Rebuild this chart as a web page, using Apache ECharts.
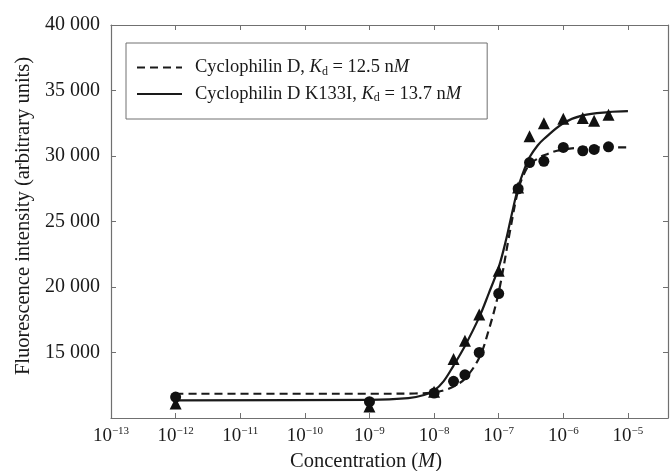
<!DOCTYPE html>
<html>
<head>
<meta charset="utf-8">
<script src="https://cdn.jsdelivr.net/npm/echarts@6/dist/echarts.min.js"></script>
<style>html,body{margin:0;padding:0;background:#fff}#c{width:670px;height:471px}</style>
</head>
<body>
<div id="c"></div>
<script>
// ---- data ----
const seriesNames = ['Cyclophilin D, Kd = 12.5 nM', 'Cyclophilin D K133I, Kd = 13.7 nM'];

// measured points, Cyclophilin D (circles)
const concCycD = [1e-12, 1e-9, 1e-8, 2e-8, 3e-8, 5e-8, 1e-7, 2e-7, 3e-7, 5e-7, 1e-6, 2e-6, 3e-6, 5e-6];
const fluoCycD = [11600, 11250, 11900, 12800, 13300, 15000, 19500, 27500, 29500, 29600, 30650, 30400, 30500, 30700];

// measured points, Cyclophilin D K133I (triangles)
const concK133I = [1e-12, 1e-9, 1e-8, 2e-8, 3e-8, 5e-8, 1e-7, 2e-7, 3e-7, 5e-7, 1e-6, 2e-6, 3e-6, 5e-6];
const fluoK133I = [11100, 10880, 12000, 14500, 15900, 17900, 21250, 27600, 31500, 32500, 32850, 32900, 32700, 33150];

// fitted curve, Cyclophilin D (dashed)
const fitConcCycD = [1e-12, 1e-9, 5e-9, 1e-8, 1.5e-8, 2e-8, 3e-8, 5e-8, 7e-8, 1e-7, 1.5e-7, 2e-7, 2.5e-7, 3e-7, 4e-7, 5e-7, 8e-7, 1.5e-6, 3e-6, 1e-5];
const fitFluoCycD = [11850, 11850, 11870, 11950, 12150, 12400, 13000, 14600, 16700, 19600, 24300, 27400, 28700, 29350, 29800, 30050, 30400, 30600, 30650, 30660];

// fitted curve, K133I (solid)
const fitConcK133I = [1e-12, 1e-9, 4e-9, 7e-9, 1e-8, 1.4e-8, 2e-8, 3e-8, 5e-8, 7e-8, 1e-7, 1.3e-7, 1.6e-7, 2e-7, 2.5e-7, 3e-7, 4e-7, 5e-7, 1e-6, 2e-6, 5e-6, 1e-5];
const fitFluoK133I = [11350, 11380, 11520, 11760, 12100, 12800, 14000, 15500, 17700, 19500, 21500, 23600, 25600, 27600, 29000, 29900, 30800, 31300, 32500, 33100, 33350, 33420];

// axis ticks
const xTickExps = [-13, -12, -11, -10, -9, -8, -7, -6, -5];
const yTickValues = [15000, 20000, 25000, 30000, 35000, 40000];

// ---- chart ----
const pairs = (xs, ys) => xs.map((x, i) => [x, ys[i]]);
const ink = '#1a1a1a';
const axisGray = '#707070';
const font = 'Liberation Serif';

const xMin = 1e-13, xMax = Math.pow(10, -4.38);

function xLabel(v) {
  const l = Math.log10(v);
  const e = Math.round(l);
  if (Math.abs(l - e) > 1e-6 || xTickExps.indexOf(e) < 0) return '';
  return '{b|10}{s|\u2212' + Math.abs(e) + '}';
}
function yLabel(v) {
  if (yTickValues.indexOf(v) < 0) return '';
  const s = String(v);
  return s.slice(0, s.length - 3) + ' ' + s.slice(-3);
}
function legendLabel(name) {
  const m = name.match(/^(.*), Kd = ([\d.]+) nM$/);
  return m[1] + ', {i|K}{sub|d} = ' + m[2] + ' n{i|M}';
}

const chart = echarts.init(document.getElementById('c'), null, { renderer: 'canvas' });
chart.setOption({
  animation: false,
  backgroundColor: '#fff',
  textStyle: { fontFamily: font, color: ink },
  grid: { left: 111, right: 2, top: 25, bottom: 53, containLabel: false, outerBoundsMode: 'none' },
  legend: {
    data: seriesNames,
    orient: 'vertical',
    left: 126, top: 43,
    padding: [15, 26, 15, 10],
    itemGap: 7,
    itemWidth: 45, itemHeight: 18,
    borderColor: axisGray, borderWidth: 1,
    itemStyle: { opacity: 0 },
    formatter: legendLabel,
    textStyle: {
      fontFamily: font, fontSize: 18.5, color: ink, padding: [0, 0, 0, 8],
      rich: {
        i: { fontFamily: font, fontSize: 18.5, fontStyle: 'italic', color: ink },
        sub: { fontFamily: font, fontSize: 12, color: ink, padding: [8, 0, 0, 0] }
      }
    }
  },
  xAxis: [{
    type: 'log', logBase: 10, min: xMin, max: xMax,
    position: 'bottom',
    name: 'Concentration ({i|M})', nameLocation: 'middle', nameGap: 29,
    nameTextStyle: {
      fontFamily: font, fontSize: 20.5, color: ink, padding: [0, 47, 0, 0],
      rich: { i: { fontFamily: font, fontSize: 20.5, fontStyle: 'italic', color: ink } }
    },
    axisLine: { lineStyle: { color: axisGray, width: 1.2 } },
    axisTick: { inside: true, length: 5, lineStyle: { color: axisGray } },
    minorTick: { show: false },
    splitLine: { show: false },
    axisLabel: {
      margin: 8, formatter: xLabel, color: ink,
      rich: {
        b: { fontFamily: font, fontSize: 19, color: ink },
        s: { fontFamily: font, fontSize: 11, color: ink, padding: [0, 0, 10, 0] }
      }
    }
  }, {
    type: 'log', logBase: 10, min: xMin, max: xMax,
    position: 'top',
    axisLine: { lineStyle: { color: axisGray, width: 1.2 } },
    axisTick: { inside: true, length: 5, lineStyle: { color: axisGray } },
    splitLine: { show: false },
    axisLabel: { show: false }
  }],
  yAxis: [{
    type: 'value', min: 10000, max: 40000, interval: 5000,
    position: 'left',
    name: 'Fluorescence intensity (arbitrary units)', nameLocation: 'middle', nameGap: 76,
    nameTextStyle: { fontFamily: font, fontSize: 20.5, color: ink, padding: [0, 0, 0, 11] },
    axisLine: { show: true, lineStyle: { color: axisGray, width: 1.2 } },
    axisTick: { show: true, inside: true, length: 5, lineStyle: { color: axisGray } },
    splitLine: { show: false },
    axisLabel: { margin: 11, formatter: yLabel, fontFamily: font, fontSize: 20, color: ink }
  }, {
    type: 'value', min: 10000, max: 40000, interval: 5000,
    position: 'right',
    axisLine: { show: true, lineStyle: { color: axisGray, width: 1.2 } },
    axisTick: { show: true, inside: true, length: 5, lineStyle: { color: axisGray } },
    splitLine: { show: false },
    axisLabel: { show: false }
  }],
  series: [{
    name: seriesNames[0], type: 'line', xAxisIndex: 0, yAxisIndex: 0,
    data: pairs(fitConcCycD, fitFluoCycD),
    symbol: 'none', smooth: 0.35,
    lineStyle: { color: ink, width: 2.2, type: [8, 5] },
    itemStyle: { color: ink }, z: 2
  }, {
    name: seriesNames[1], type: 'line', xAxisIndex: 0, yAxisIndex: 0,
    data: pairs(fitConcK133I, fitFluoK133I),
    symbol: 'none', smooth: 0.35,
    lineStyle: { color: ink, width: 2.2, type: 'solid' },
    itemStyle: { color: ink }, z: 2
  }, {
    name: 'Cyclophilin D data', type: 'scatter', xAxisIndex: 0, yAxisIndex: 0,
    data: pairs(concCycD, fluoCycD),
    symbol: 'circle', symbolSize: 11,
    itemStyle: { color: '#111', opacity: 1 }, z: 4
  }, {
    name: 'K133I data', type: 'scatter', xAxisIndex: 0, yAxisIndex: 0,
    data: pairs(concK133I, fluoK133I),
    symbol: 'triangle', symbolSize: 12,
    itemStyle: { color: '#111', opacity: 1 }, z: 3
  }]
});
</script>
</body>
</html>
